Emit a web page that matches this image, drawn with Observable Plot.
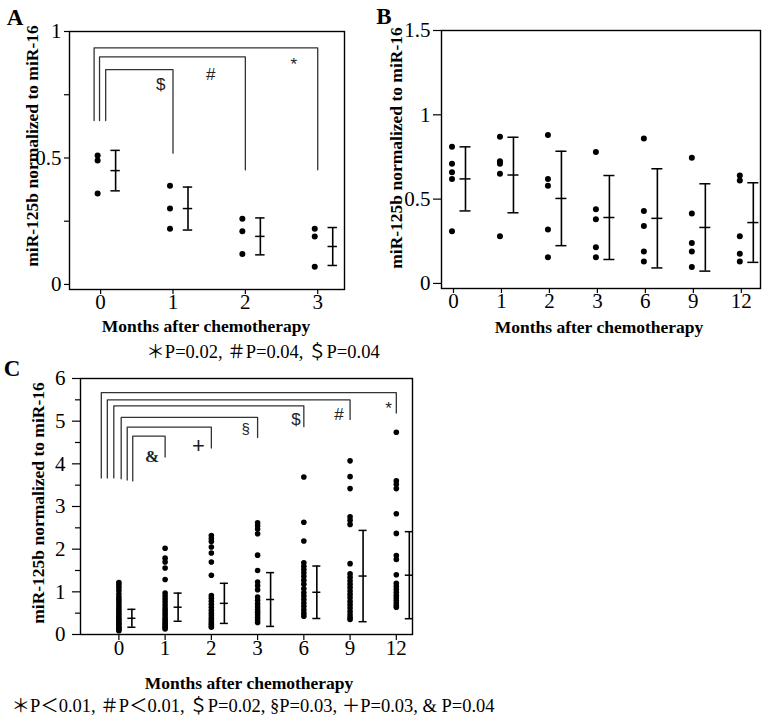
<!DOCTYPE html>
<html><head><meta charset="utf-8">
<script src="https://cdn.jsdelivr.net/npm/d3@7"></script>
<script src="https://cdn.jsdelivr.net/npm/@observablehq/plot@0.6"></script>
<style>
body{margin:0;background:#fff;}
#root{position:relative;width:765px;height:725px;overflow:hidden;font-family:"Liberation Serif","Noto Sans CJK JP",serif;color:#000;}
.box{position:absolute;}
.t{position:absolute;white-space:nowrap;line-height:1;transform:translate(-50%,-50%);}
.rot{transform:translate(-50%,-50%) rotate(-90deg);}
.b{font-weight:bold;}
</style></head>
<body><div id="root"></div>
<script>
// ---------- Panel A data ----------
const monthsA = ["0", "1", "2", "3"];
const valuesA = [
  [0.51, 0.49, 0.36],
  [0.39, 0.30, 0.22],
  [0.26, 0.21, 0.12],
  [0.22, 0.19, 0.07]
];
const meanA = [0.45, 0.30, 0.19, 0.15];
const sdA = [0.08, 0.085, 0.073, 0.075];
const yTicksA = [0, 0.5, 1];
const yMinorA = [0.25, 0.75];
const bracketsA = [
  {label: "*", to: 3, left: -0.09, level: 0.935, leftEnd: 0.648, rightEnd: 0.453, lx: 2.67, ly: 0.87},
  {label: "#", to: 2, left: -0.015, level: 0.90, leftEnd: 0.648, rightEnd: 0.453, lx: 1.52, ly: 0.83},
  {label: "$", to: 1, left: 0.07, level: 0.849, leftEnd: 0.648, rightEnd: 0.519, lx: 0.83, ly: 0.79}
];

// ---------- Panel B data ----------
const monthsB = ["0", "1", "2", "3", "6", "9", "12"];
const valuesB = [
  [0.81, 0.71, 0.66, 0.62, 0.31],
  [0.87, 0.725, 0.71, 0.65, 0.28],
  [0.88, 0.62, 0.58, 0.32, 0.155],
  [0.78, 0.44, 0.38, 0.215, 0.155],
  [0.86, 0.43, 0.34, 0.19, 0.13],
  [0.745, 0.415, 0.24, 0.19, 0.097],
  [0.64, 0.61, 0.28, 0.176, 0.13]
];
const meanB = [0.62, 0.643, 0.504, 0.391, 0.386, 0.332, 0.361];
const sdB = [0.19, 0.224, 0.28, 0.249, 0.294, 0.259, 0.236];
const yTicksB = [0, 0.5, 1, 1.5];

// ---------- Panel C data ----------
const monthsC = ["0", "1", "2", "3", "6", "9", "12"];
const valuesC = [
  [1.22, 1.16, 1.10, 1.03, 0.95, 0.88, 0.82, 0.76, 0.70, 0.64, 0.58, 0.53, 0.48, 0.43, 0.38, 0.34, 0.30, 0.26, 0.22, 0.18, 0.15, 0.12, 0.09],
  [2.02, 1.79, 1.70, 1.56, 1.29, 0.97, 0.90, 0.83, 0.76, 0.69, 0.62, 0.56, 0.50, 0.44, 0.38, 0.33, 0.28, 0.24, 0.20, 0.16, 0.13],
  [2.32, 2.25, 2.18, 2.05, 1.91, 1.70, 1.39, 0.91, 0.85, 0.78, 0.71, 0.64, 0.57, 0.50, 0.44, 0.38, 0.33, 0.28, 0.24, 0.20, 0.17],
  [2.62, 2.55, 2.47, 2.36, 1.86, 1.50, 1.23, 1.14, 1.05, 0.88, 0.80, 0.72, 0.65, 0.58, 0.52, 0.46, 0.40, 0.34, 0.28],
  [3.69, 2.63, 2.19, 1.68, 1.60, 1.52, 1.44, 1.36, 1.27, 1.18, 1.07, 0.98, 0.90, 0.82, 0.74, 0.66, 0.58, 0.50, 0.43],
  [4.07, 3.70, 3.42, 2.76, 2.68, 2.58, 1.66, 1.42, 1.34, 1.26, 1.18, 1.10, 1.02, 0.94, 0.86, 0.78, 0.70, 0.62, 0.54, 0.46, 0.40, 0.35],
  [4.74, 3.60, 3.52, 3.42, 2.83, 2.37, 1.85, 1.76, 1.40, 1.20, 1.13, 1.06, 0.99, 0.92, 0.86, 0.80, 0.74, 0.68, 0.64]
];
const meanC = [0.38, 0.64, 0.73, 0.82, 0.99, 1.37, 1.39];
const sdC = [0.21, 0.33, 0.47, 0.63, 0.615, 1.07, 1.02];
const yTicksC = [0, 1, 2, 3, 4, 5, 6];
const yMinorC = [0.5, 1.5, 2.5, 3.5, 4.5, 5.5];
const bracketsC = [
  {label: "*", to: 6, left: -0.38, level: 5.67, leftEnd: 3.67, rightEnd: 5.19, lx: 5.83, ly: 5.30, size: 17, font: "Liberation Sans", weight: "normal"},
  {label: "#", to: 5, left: -0.25, level: 5.50, leftEnd: 3.67, rightEnd: 5.04, lx: 4.76, ly: 5.15, size: 17, font: "Liberation Sans", weight: "normal"},
  {label: "$", to: 4, left: -0.11, level: 5.36, leftEnd: 3.67, rightEnd: 4.87, lx: 3.83, ly: 5.03, size: 17, font: "Liberation Sans", weight: "normal"},
  {label: "§", to: 3, left: 0.05, level: 5.09, leftEnd: 3.65, rightEnd: 4.62, lx: 2.74, ly: 4.82, size: 15, font: "Liberation Sans", weight: "normal"},
  {label: "+", to: 2, left: 0.18, level: 4.86, leftEnd: 3.62, rightEnd: 4.37, lx: 1.72, ly: 4.41, size: 22, font: "Liberation Sans", weight: "normal"},
  {label: "&", to: 1, left: 0.30, level: 4.65, leftEnd: 3.60, rightEnd: 4.16, lx: 0.72, ly: 4.16, size: 17, font: "Liberation Serif", weight: "bold"}
];

// ---------- helpers ----------
const points = vals => vals.flatMap((vs, i) => vs.map(v => ({i, v})));
const stats = (mean, sd) => mean.map((m, i) => ({i, mean: m, lo: m - sd[i], hi: m + sd[i]}));
const bracketPts = br => br.flatMap(b => [
  {k: b.label, x: b.left, y: b.leftEnd},
  {k: b.label, x: b.left, y: b.level},
  {k: b.label, x: b.to, y: b.level},
  {k: b.label, x: b.to, y: b.rightEnd}
]);
function errorMarks(st, cap, dx) {
  return [
    Plot.ruleX(st, {x: "i", y1: "lo", y2: "hi", dx, stroke: "#000", strokeWidth: 1.6}),
    ...["lo", "mean", "hi"].map(k => Plot.ruleY(st, {y: k, x1: d => d.i - cap, x2: d => d.i + cap, dx, stroke: "#000", strokeWidth: 1.5}))
  ];
}

function panel(o) {
  const marks = [
    Plot.axisY({ticks: o.yTicks, tickSize: o.yTickSize, tickPadding: o.yPad, tickFormat: d => String(d), label: null, strokeWidth: 1.2}),
    ...(o.yMinor ? [Plot.axisY({ticks: o.yMinor, tickSize: o.yMinorSize, text: null, label: null, strokeWidth: 1.2})] : []),
    Plot.axisX({ticks: d3.range(o.months.length), tickSize: o.xTickSize, tickPadding: 0, tickFormat: i => o.months[i], label: null, strokeWidth: 1.2}),
    Plot.frame({stroke: "#000", strokeWidth: 1.4}),
    ...(o.brackets ? [
      Plot.line(bracketPts(o.brackets), {x: "x", y: "y", z: "k", stroke: "#333", strokeWidth: 1.3, curve: "linear"}),
      ...o.brackets.map(b => Plot.text([b], {x: "lx", y: "ly", text: "label", fontSize: b.size || 17, fontFamily: b.font || "Liberation Sans", fontWeight: b.weight || "normal", fill: "#222"}))
    ] : []),
    Plot.dot(points(o.values), {x: "i", y: "v", r: o.r, fill: "#000", stroke: "none", dx: o.dotDx}),
    ...errorMarks(stats(o.mean, o.sd), o.cap, o.barDx)
  ];
  return Plot.plot({
    width: o.width, height: o.height,
    marginTop: o.m[0], marginRight: o.m[1], marginBottom: o.m[2], marginLeft: o.m[3],
    x: {type: "linear", domain: o.xDomain},
    y: {type: "linear", domain: o.yDomain},
    style: {fontFamily: "Liberation Serif, serif", fontSize: "21px", background: "transparent", overflow: "visible", color: "#000"},
    marks
  });
}

const root = document.getElementById("root");
function place(node, left, top) {
  const d = document.createElement("div");
  d.className = "box"; d.style.left = left + "px"; d.style.top = top + "px";
  d.appendChild(node); root.appendChild(d);
}
function text(str, cx, cy, size, cls) {
  const d = document.createElement("div");
  d.className = "t " + (cls || "");
  d.style.left = cx + "px"; d.style.top = cy + "px"; d.style.fontSize = size + "px";
  d.textContent = str; root.appendChild(d);
}

place(panel({
  width: 380, height: 310, m: [31, 36, 21, 69],
  xDomain: [-0.43, 3.37], yDomain: [-0.02, 1],
  months: monthsA, yTicks: yTicksA, yMinor: yMinorA, yTickSize: 5, yMinorSize: 5, yPad: 3, xTickSize: 5,
  values: valuesA, mean: meanA, sd: sdA, r: 3, dotDx: -3, barDx: 15, cap: 0.065,
  brackets: bracketsA
}), 0, 0);

place(panel({
  width: 385, height: 310, m: [30, 5, 22, 61],
  xDomain: [-0.25, 6.4], yDomain: [-0.03, 1.5],
  months: monthsB, yTicks: yTicksB, yTickSize: 8, yPad: 3, xTickSize: 5,
  values: valuesB, mean: meanB, sd: sdB, r: 3, dotDx: -1.5, barDx: 12, cap: 0.115
}), 380, 0);

place(panel({
  width: 420, height: 340, m: [48, 8, 36, 80],
  xDomain: [-0.83, 6.35], yDomain: [0, 6],
  months: monthsC, yTicks: yTicksC, yMinor: yMinorC, yTickSize: 8, yMinorSize: 5, yPad: 7, xTickSize: 6,
  values: valuesC, mean: meanC, sd: sdC, r: 2.8, dotDx: 0, barDx: 13, cap: 0.087,
  brackets: bracketsC
}), 0, 330);

// text
text("A", 15, 17, 23, "b");
text("B", 384, 16, 23, "b");
text("C", 12, 368, 23, "b");
text("miR-125b normalized to miR-16", 33, 146, 17.5, "b rot");
text("miR-125b normalized to miR-16", 397, 148, 17.5, "b rot");
text("miR-125b normalized to miR-16", 38.5, 503, 17.5, "b rot");
text("Months after chemotherapy", 206, 327, 17.5, "b");
text("Months after chemotherapy", 599, 328, 17.5, "b");
text("Months after chemotherapy", 249, 684, 17.5, "b");
text("＊P=0.02, ＃P=0.04, ＄P=0.04", 263, 352, 18.5, "");
text("＊P＜0.01, ＃P＜0.01, ＄P=0.02, §P=0.03, ＋P=0.03, & P=0.04", 253, 706, 18.5, "");
</script></body></html>
